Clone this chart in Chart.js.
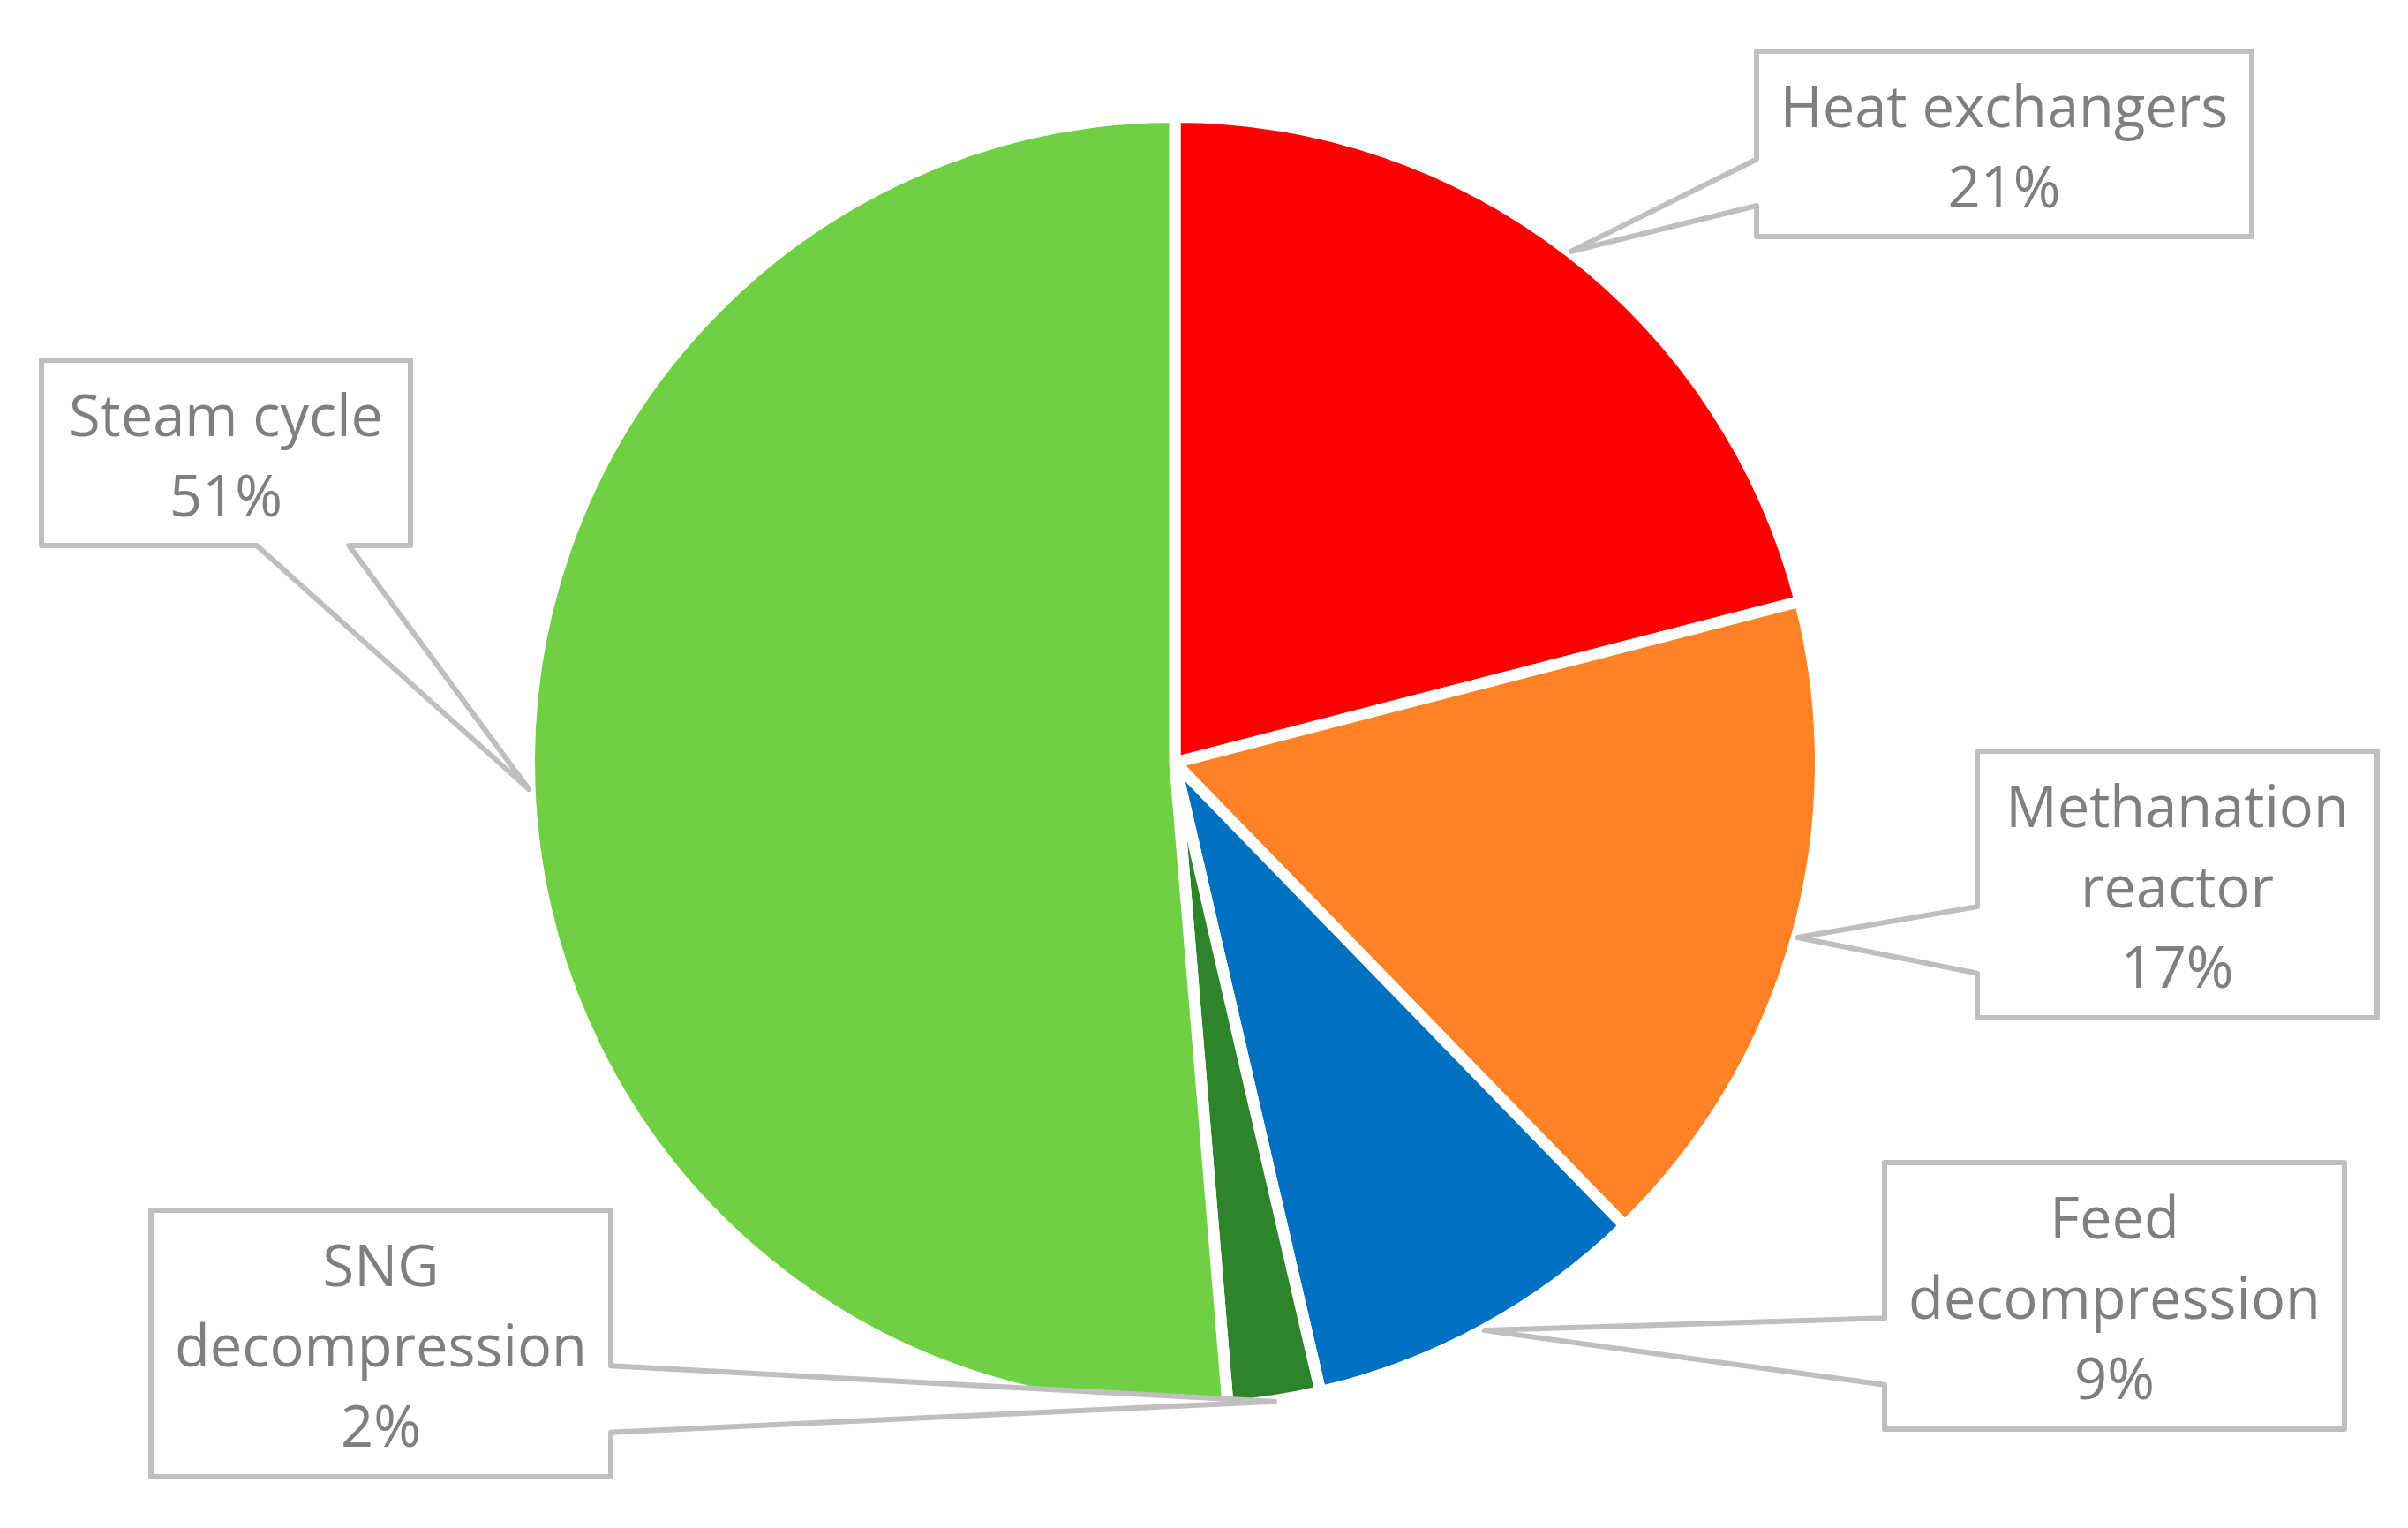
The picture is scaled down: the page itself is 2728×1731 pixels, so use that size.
<!DOCTYPE html>
<html>
<head>
<meta charset="utf-8">
<script src="https://cdn.jsdelivr.net/npm/chart.js@4.4.0/dist/chart.umd.min.js"></script>
<style>
  html, body { margin: 0; padding: 0; background: #ffffff; }
  #wrap { width: 2728px; height: 1731px; }
</style>
</head>
<body>
<div id="wrap"><canvas id="c" width="2728" height="1731"></canvas></div>
<script>
// ---- data ----
const categories = ['Heat exchangers', 'Methanation reactor', 'Feed decompression', 'SNG decompression', 'Steam cycle'];
const labelLines = [['Heat exchangers'], ['Methanation', 'reactor'], ['Feed', 'decompression'], ['SNG', 'decompression'], ['Steam cycle']];
const shares = [20.98, 16.75, 8.65, 2.31, 51.31];
const sliceColors = ['#FF0000', '#FF8226', '#0070C0', '#2E842A', '#70D044'];

// ---- callout layout (positions of label boxes, in canvas px) ----
const calloutBoxes = [
  { x: 1990, y: 58,   w: 561, h: 210 },
  { x: 2240, y: 851,  w: 453, h: 302 },
  { x: 2135, y: 1317, w: 521, h: 302 },
  { x: 171,  y: 1371, w: 521, h: 302 },
  { x: 47,   y: 408,  w: 418, h: 210 }
];

function calloutPath(ctx, b, tx, ty) {
  const l = b.x, t = b.y, r = b.x + b.w, bt = b.y + b.h;
  const hc = l + b.w / 2, vc = t + b.h / 2;
  const dx = tx - hc, dy = ty - vc;
  const dq = dx * b.h / b.w;
  const vertical = Math.abs(dy) > Math.abs(dq);
  const x1 = l + b.w * (dx > 0 ? 7 : 2) / 12, x2 = l + b.w * (dx > 0 ? 10 : 5) / 12;
  const y1 = t + b.h * (dy > 0 ? 7 : 2) / 12, y2 = t + b.h * (dy > 0 ? 10 : 5) / 12;
  ctx.beginPath();
  ctx.moveTo(l, t);
  if (vertical && dy < 0) { ctx.lineTo(x1, t); ctx.lineTo(tx, ty); ctx.lineTo(x2, t); }
  ctx.lineTo(r, t);
  if (!vertical && dx > 0) { ctx.lineTo(r, y1); ctx.lineTo(tx, ty); ctx.lineTo(r, y2); }
  ctx.lineTo(r, bt);
  if (vertical && dy > 0) { ctx.lineTo(x2, bt); ctx.lineTo(tx, ty); ctx.lineTo(x1, bt); }
  ctx.lineTo(l, bt);
  if (!vertical && dx < 0) { ctx.lineTo(l, y2); ctx.lineTo(tx, ty); ctx.lineTo(l, y1); }
  ctx.closePath();
}

const calloutPlugin = {
  id: 'callouts',
  afterDatasetsDraw(chart, args, opts) {
    const ctx = chart.ctx;
    const meta = chart.getDatasetMeta(0);
    const values = chart.data.datasets[0].data;
    const total = values.reduce((a, v) => a + v, 0);
    meta.data.forEach((arc, i) => {
      const p = arc.getProps(['x', 'y', 'startAngle', 'endAngle', 'outerRadius'], true);
      const mid = (p.startAngle + p.endAngle) / 2;
      const rr = p.outerRadius + opts.tipOffset;
      const tx = p.x + Math.cos(mid) * rr;
      const ty = p.y + Math.sin(mid) * rr;
      const b = opts.boxes[i];
      ctx.save();
      calloutPath(ctx, b, tx, ty);
      ctx.fillStyle = '#FFFFFF';
      ctx.fill();
      ctx.lineWidth = opts.lineWidth;
      ctx.strokeStyle = opts.lineColor;
      ctx.lineJoin = 'round';
      ctx.stroke();
      const lines = opts.lines[i].concat([Math.round(values[i] / total * 100) + '%']);
      ctx.fillStyle = opts.textColor;
      ctx.font = opts.font;
      ctx.textAlign = 'center';
      ctx.textBaseline = 'alphabetic';
      const cx = b.x + b.w / 2, cy = b.y + b.h / 2;
      lines.forEach((s, k) => {
        const by = cy + (k - (lines.length - 1) / 2) * opts.lineHeight + opts.capHeight / 2;
        ctx.fillText(s, cx, by);
      });
      ctx.restore();
    });
  }
};

new Chart(document.getElementById('c'), {
  type: 'pie',
  data: {
    labels: categories,
    datasets: [{
      data: shares,
      backgroundColor: sliceColors,
      borderColor: '#FFFFFF',
      borderWidth: 13,
      hoverOffset: 0
    }]
  },
  options: {
    responsive: false,
    devicePixelRatio: 1,
    animation: false,
    radius: 731.5,
    layout: { padding: { left: 0, right: 66, top: 0, bottom: 3 } },
    plugins: {
      legend: { display: false },
      tooltip: { enabled: false },
      callouts: {
        boxes: calloutBoxes,
        lines: labelLines,
        tipOffset: 1,
        lineWidth: 6,
        lineColor: '#BFBFBF',
        textColor: '#7F7F7F',
        font: '65px "Open Sans"',
        lineHeight: 91,
        capHeight: 52
      }
    }
  },
  plugins: [calloutPlugin]
});
</script>
</body>
</html>
